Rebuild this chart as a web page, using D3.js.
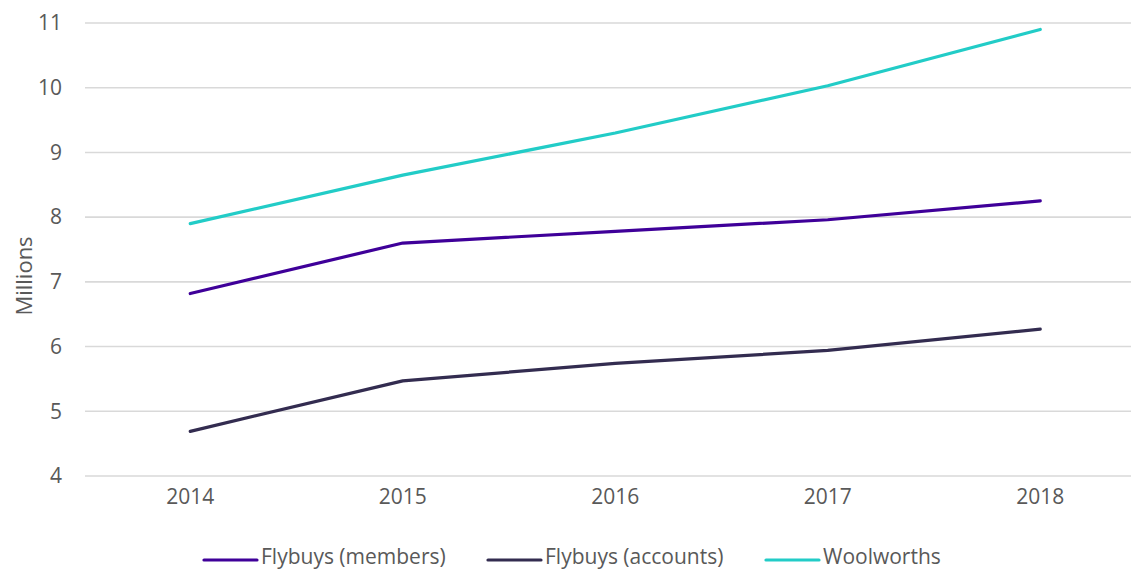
<!DOCTYPE html>
<html><head><meta charset="utf-8">
<script src="https://cdn.jsdelivr.net/npm/d3@7"></script>
<style>body{margin:0;background:#fff}svg{display:block}text{font-family:"Open Sans",sans-serif;fill:#595959}</style>
</head><body><svg id="c" width="1131" height="569"></svg>
<script>
const years = ["2014","2015","2016","2017","2018"];
const flybuysMembers = [6.82, 7.60, 7.78, 7.96, 8.25];
const flybuysAccounts = [4.69, 5.47, 5.74, 5.94, 6.27];
const woolworths = [7.90, 8.65, 9.30, 10.03, 10.90];
const yTicks = [4,5,6,7,8,9,10,11];
const seriesNames = ["Flybuys (members)","Flybuys (accounts)","Woolworths"];
const seriesColors = ["#3f0099","#332c50","#22ccc7"];
const seriesData = [flybuysMembers, flybuysAccounts, woolworths];

const svg = d3.select("#c");
const x = d3.scaleBand().domain(years).range([84, 1146.5]);
const y = d3.scaleLinear().domain([4,11]).range([476, 23]);

// gridlines
svg.append("g").selectAll("line").data(yTicks).join("line")
  .attr("x1",85).attr("x2",1131).attr("y1",d=>y(d)).attr("y2",d=>y(d))
  .attr("stroke","#d9d9d9").attr("stroke-width",1.6);

// y axis labels
const ya = svg.append("g").attr("transform","translate(62,0)")
  .call(d3.axisLeft(y).tickValues(yTicks).tickSize(0).tickPadding(0).tickFormat(d3.format("d")));
ya.select(".domain").remove();
ya.selectAll("text").attr("font-size",21).attr("fill","#595959").style("font-family","Open Sans");

// x axis labels
const xa = svg.append("g").attr("transform","translate(0,489)")
  .call(d3.axisBottom(x).tickSize(0).tickPadding(0));
xa.select(".domain").remove();
xa.selectAll("text").attr("font-size",21).attr("fill","#595959").style("font-family","Open Sans").attr("dy","0.71em");

// y title
svg.append("text").attr("transform","translate(32,276) rotate(-90)")
  .attr("text-anchor","middle").attr("font-size",22).text("Millions");

// lines
const line = d3.line().x((d,i)=>x(years[i])+x.bandwidth()/2).y(d=>y(d));
svg.append("g").selectAll("path").data(seriesData).join("path")
  .attr("d",line).attr("fill","none")
  .attr("stroke",(d,i)=>seriesColors[i]).attr("stroke-width",3.2)
  .attr("stroke-linecap","round").attr("stroke-linejoin","round");

// legend
const legX = [204, 488, 766];
const lg = svg.append("g").selectAll("g").data(seriesNames).join("g")
  .attr("transform",(d,i)=>`translate(${legX[i]},560)`);
lg.append("line").attr("x1",0).attr("x2",53).attr("y1",0).attr("y2",0)
  .attr("stroke",(d,i)=>seriesColors[i]).attr("stroke-width",3.2).attr("stroke-linecap","round");
lg.append("text").attr("x",57).attr("y",4).attr("font-size",21).text(d=>d);
</script></body></html>
